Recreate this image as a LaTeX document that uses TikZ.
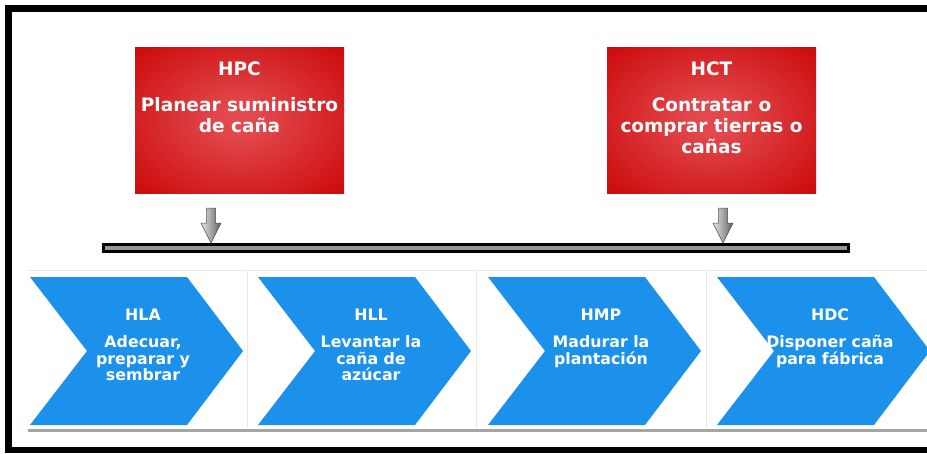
\documentclass[tikz,border=0pt]{standalone}
\usepackage{fontspec}
\setmainfont{DejaVu Sans}
\definecolor{boxred}{RGB}{200,0,0}
\definecolor{boxredlight}{RGB}{226,72,76}
\definecolor{stepblue}{RGB}{27,145,235}
\definecolor{barfill}{RGB}{150,150,150}
\definecolor{panelline}{RGB}{232,232,232}
\definecolor{basegray}{RGB}{165,165,165}
% soft red glow used by the two supporting-process boxes
\pgfdeclareradialshading{redglow}{\pgfpoint{0bp}{0bp}}{%
  color(0bp)=(boxredlight); color(5bp)=(boxredlight);
  color(40bp)=(boxred); color(80bp)=(boxred)}
\begin{document}
\begin{tikzpicture}[x=1pt,y=-1pt,
  taskbox/.style={rectangle, draw=none, shade, shading=redglow,
    minimum width=209pt, minimum height=146pt, inner sep=0pt},
  boxtext/.style={anchor=north, inner sep=0pt, align=center, text=white,
    font=\bfseries\fontsize{18.5}{21}\selectfont},
  steptext/.style={anchor=north, inner sep=0pt, align=center, text=white,
    font=\bfseries\fontsize{15.8}{16.8}\selectfont},
  chevron/.style={fill=stepblue, draw=none},
  linkbar/.style={rectangle, draw=black, line width=3pt, fill=barfill,
    minimum width=745pt, minimum height=7pt, inner sep=0pt},
  downarrow/.pic={
    \shade[left color=gray!20, right color=gray!75!black,
      draw=gray!60!black, line width=0.5pt]
      (-4.5,0) -- (4.5,0) -- (4.5,15) -- (10,15) -- (0,35)
      -- (-10,15) -- (-4.5,15) -- cycle;}]

\useasboundingbox (0,0) rectangle (927,453);
\fill[white] (0,0) rectangle (927,453);

% outer frame (open on the right)
\draw[line width=6.5pt] (930,8.5) -- (8.5,8.5) -- (8.5,450) -- (930,450);

% supporting processes
\node[taskbox] (hpc) at (239.5,120) {};
\node[boxtext] (hpc-t) at (239.5,62) {HPC};
\node[boxtext] (hpc-b) at (239.5,97) {Planear suministro\\de caña};

\node[taskbox] (hct) at (711.5,120) {};
\node[boxtext] (hct-t) at (711.5,62) {HCT};
\node[boxtext] (hct-b) at (711.5,98) {Contratar o\\comprar tierras o\\cañas};

% link bar and feeding arrows
\node[linkbar] (bar) at (476,248) {};
\coordinate (hpc-in) at (211,208);
\coordinate (hct-in) at (723,208);
\pic at (hpc-in) {downarrow};
\pic at (hct-in) {downarrow};

% panel behind the value chain
\draw[panelline, line width=0.8pt] (28,270) -- (927,270);
\foreach \sx in {247,476,706}
  \draw[panelline, line width=0.8pt] (\sx,270) -- (\sx,428);
\draw[basegray, line width=3pt] (28,430) -- (927,430);

% value chain chevrons
\foreach \L/\id/\title/\body in {
    30/hla/HLA/{Adecuar,\\preparar y\\sembrar},
    258/hll/HLL/{Levantar la\\caña de\\azúcar},
    488/hmp/HMP/{Madurar la\\plantación},
    717/hdc/HDC/{Disponer caña\\para fábrica}}{
  \path[chevron] (\L,277) -- ++(157,0) -- ++(56,74) -- ++(-56,74)
    -- ++(-157,0) -- ++(57,-74) -- cycle;
  \coordinate (\id) at (\L+113,351);
  \node[steptext] (\id-t) at (\L+113,309) {\title};
  \node[steptext] (\id-b) at (\L+113,335) {\body};
}
\end{tikzpicture}
\end{document}
